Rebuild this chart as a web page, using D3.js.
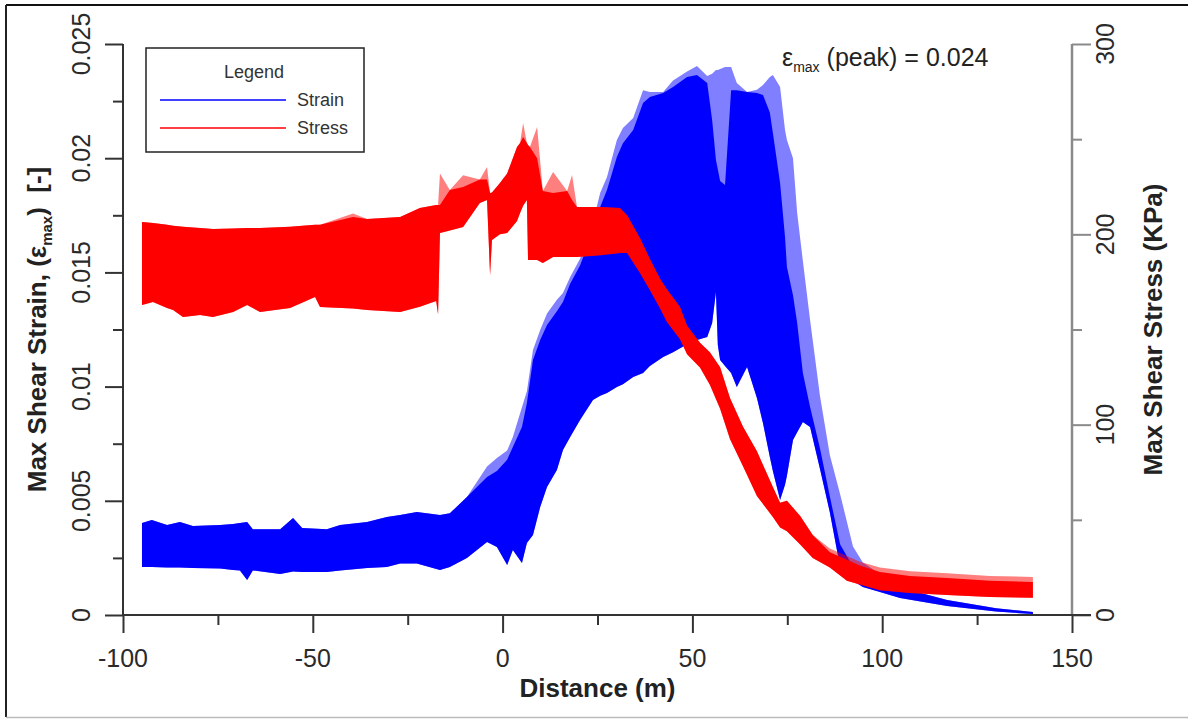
<!DOCTYPE html>
<html>
<head>
<meta charset="utf-8">
<script src="https://cdn.jsdelivr.net/npm/d3@7"></script>
<style>
  body { margin: 0; background: #fff; }
  text { font-family: Arial, "Liberation Sans", sans-serif; }
</style>
</head>
<body>
<div id="chart"></div>
<script>
// Strain band (blue): distance, lower edge, solid upper edge, spike tops
const strainX = [-95, -92.4, -88.4, -85, -81.6, -74.4, -71, -69.2, -67.3, -65.8, -58.6, -55.2, -52.8, -46.3, -42.8, -35.7, -30.5, -27, -22.6, -16.5, -13.9, -9.4, -4.1, -1.5, 1.2, 2.7, 5.1, 6.4, 8, 9.9, 11.7, 14.3, 15.9, 17.8, 20.4, 23.8, 25.7, 27.5, 30.1, 31.7, 34.4, 37, 38.8, 42.3, 44.9, 48.6, 51.2, 53.9, 55.2, 56.2, 56.7, 57.3, 58.6, 60.2, 61.7, 64.4, 67, 68.6, 70.4, 71.2, 73.1, 74.4, 74.9, 76.5, 77.6, 79.1, 81, 83.6, 86.2, 88.9, 92.3, 94.9, 99.4, 104.7, 117.1, 130, 139.7];
const strainLow = [0.0021, 0.0021, 0.00208, 0.00208, 0.00206, 0.00204, 0.00197, 0.00195, 0.00153, 0.00195, 0.0018, 0.0019, 0.00188, 0.00188, 0.00195, 0.00206, 0.0021, 0.00225, 0.00225, 0.00197, 0.0021, 0.0025, 0.0032, 0.00298, 0.00219, 0.00285, 0.00228, 0.00315, 0.0035, 0.00473, 0.0056, 0.00635, 0.00722, 0.00779, 0.00854, 0.00941, 0.0096, 0.00972, 0.00998, 0.0101, 0.01042, 0.01059, 0.0109, 0.0113, 0.0115, 0.01185, 0.01204, 0.01217, 0.01278, 0.01414, 0.01182, 0.01116, 0.0109, 0.0106, 0.00998, 0.01086, 0.0095, 0.0084, 0.00692, 0.0063, 0.00503, 0.0057, 0.0061, 0.00766, 0.008, 0.00845, 0.00823, 0.0064, 0.0045, 0.0021, 0.0015, 0.00123, 0.00101, 0.00074, 0.00039, 0.00015, 0.00004];
const strainHigh = [0.00403, 0.00416, 0.00394, 0.00407, 0.0039, 0.00394, 0.00398, 0.00403, 0.00407, 0.00375, 0.00375, 0.00425, 0.00381, 0.00375, 0.00394, 0.00407, 0.00429, 0.00438, 0.00451, 0.00438, 0.00445, 0.00517, 0.00604, 0.0063, 0.0068, 0.00736, 0.00823, 0.00928, 0.01116, 0.01204, 0.0127, 0.0133, 0.0137, 0.0145, 0.0153, 0.0168, 0.01786, 0.01861, 0.02005, 0.02066, 0.02123, 0.02242, 0.02268, 0.02285, 0.02312, 0.02355, 0.02364, 0.02329, 0.02167, 0.01992, 0.0195, 0.019, 0.01883, 0.02298, 0.02298, 0.0229, 0.02285, 0.02277, 0.022, 0.0211, 0.01891, 0.01655, 0.01524, 0.014, 0.01278, 0.01059, 0.00911, 0.0073, 0.0052, 0.0031, 0.0021, 0.0018, 0.00166, 0.0012, 0.00066, 0.0003, 0.00013];
const strainPeak = [0.00403, 0.00416, 0.00394, 0.00407, 0.0039, 0.00394, 0.00398, 0.00403, 0.00407, 0.00375, 0.00375, 0.00425, 0.00381, 0.00375, 0.00394, 0.00407, 0.00429, 0.00438, 0.00451, 0.00438, 0.00445, 0.00517, 0.0065, 0.00687, 0.0072, 0.00779, 0.0091, 0.0098, 0.0116, 0.01248, 0.0132, 0.0138, 0.0141, 0.0148, 0.0156, 0.0172, 0.01848, 0.01918, 0.0208, 0.02132, 0.02176, 0.02298, 0.0229, 0.0229, 0.0234, 0.0238, 0.02404, 0.0236, 0.0237, 0.02386, 0.02386, 0.0239, 0.02399, 0.02399, 0.02329, 0.0229, 0.023, 0.0232, 0.02355, 0.02364, 0.02312, 0.02123, 0.0208, 0.02, 0.0176, 0.0155, 0.01292, 0.0096, 0.007, 0.0053, 0.003, 0.0023, 0.0018, 0.0012, 0.00066, 0.0003, 0.00013];

// Stress band (red): distance, lower edge, solid upper edge, spike tops (kPa)
const stressX = [-95, -92.1, -88.4, -86.8, -84.2, -79.7, -76.3, -71, -67.3, -63.9, -56, -49.4, -48.1, -39.4, -35.7, -27, -21.8, -17.5, -17, -16.5, -13.9, -10.4, -6, -4.1, -3.3, -2.8, -0.7, 1.2, 3.8, 4.6, 5.4, 6.4, 6.7, 7.2, 9.1, 10.6, 13.3, 17, 18.3, 19.6, 25.7, 30.9, 32.8, 36.2, 38.8, 41.5, 43.3, 46.7, 48.6, 52, 54.6, 57.3, 59.9, 63.3, 67, 71.2, 73.1, 74.9, 78.4, 81.7, 86.2, 90.7, 94.1, 99.4, 107.3, 117.1, 128.4, 139.7];
const stressLow = [162.9, 164.5, 161.3, 160.3, 156.6, 157.6, 156.6, 159.2, 162.9, 159.2, 161.3, 167.1, 161.8, 161, 160.3, 159.2, 162, 165, 158, 200.7, 202, 203.9, 216.5, 218, 178.6, 197, 200, 200.7, 207, 211.2, 215, 218, 186.5, 186.5, 186.5, 184.9, 188.1, 188.1, 188.1, 188.1, 189, 190.2, 190.2, 179.7, 170.8, 161, 154, 145, 137, 130, 121, 108.3, 92.5, 78.3, 62.5, 51.5, 46, 44, 37, 30, 25, 18, 16, 13, 11.5, 10.5, 9.5, 9];
const stressHigh = [206.5, 206, 205, 204.5, 204, 203.3, 202.8, 203, 203.3, 203.3, 204, 205, 205, 209.1, 208, 209.1, 213.9, 215.4, 215.4, 215.4, 223.3, 224.9, 228.8, 228.8, 221.7, 222, 227, 232, 245.9, 248, 251.1, 248, 247, 245.9, 240, 222.8, 221.7, 222.8, 218, 214.4, 214.4, 213.9, 210, 198, 187, 176.5, 171, 162, 152, 143, 138, 130.2, 114, 99, 86, 67.2, 59, 60, 52, 42, 33, 29, 26, 22.6, 20.5, 19.4, 18, 17.3];
const stressPeak = [206.5, 206, 205, 204.5, 204, 203.3, 202.8, 203, 203.3, 203.3, 204, 205, 205, 211, 208, 209.1, 213.9, 215.4, 215.4, 232, 223.3, 231, 228.8, 235.4, 221.7, 222, 227, 232, 245.9, 248, 258.5, 248, 247, 245.9, 256.4, 222.8, 232.8, 222.8, 231.2, 214.4, 214.4, 213.9, 210, 198, 187, 176.5, 171, 162, 152, 143, 138, 130.2, 114, 99, 86, 67.2, 59, 60, 52, 42, 35, 31, 28, 25, 23, 22, 20.5, 20];

const xTicks = [-100, -50, 0, 50, 100, 150];
const xMinor = [-75, -25, 25, 75, 125];
const strainTicks = [0, 0.005, 0.01, 0.015, 0.02, 0.025];
const strainMinor = [0.0025, 0.0075, 0.0125, 0.0175, 0.0225];
const stressTicks = [0, 100, 200, 300];
const stressMinor = [50, 150, 250];

const width = 1188, height = 719;
const svg = d3.select("#chart").append("svg")
  .attr("width", width)
  .attr("height", height);

// outer frame
svg.append("line").attr("x1", 6).attr("x2", width).attr("y1", 5).attr("y2", 5)
  .attr("stroke", "#111").attr("stroke-width", 2);
svg.append("line").attr("x1", 6).attr("x2", 6).attr("y1", 5).attr("y2", 717)
  .attr("stroke", "#222").attr("stroke-width", 2);
svg.append("line").attr("x1", 6).attr("x2", width).attr("y1", 717.5).attr("y2", 717.5)
  .attr("stroke", "#bbb").attr("stroke-width", 1.5);

// scales
const x = d3.scaleLinear().domain([-100, 150]).range([123, 1072]);
const yStrain = d3.scaleLinear().domain([0, 0.025]).range([615, 44]);
const yStress = d3.scaleLinear().domain([0, 300]).range([615, 44]);

const strainData = strainX.map((d, i) => ({ x: d, lo: strainLow[i], hi: strainHigh[i], pk: strainPeak[i] }));
const stressData = stressX.map((d, i) => ({ x: d, lo: stressLow[i], hi: stressHigh[i], pk: stressPeak[i] }));

// strain band
svg.append("path").datum(strainData)
  .attr("fill", "#0000ff").attr("opacity", 0.5)
  .attr("d", d3.area().x(d => x(d.x)).y0(d => yStrain(d.lo)).y1(d => yStrain(d.pk)));
svg.append("path").datum(strainData)
  .attr("fill", "#0000ff")
  .attr("d", d3.area().x(d => x(d.x)).y0(d => yStrain(d.lo)).y1(d => yStrain(d.hi)));

// stress band
svg.append("path").datum(stressData)
  .attr("fill", "#ff0000").attr("opacity", 0.5)
  .attr("d", d3.area().x(d => x(d.x)).y0(d => yStress(d.lo)).y1(d => yStress(d.pk)));
svg.append("path").datum(stressData)
  .attr("fill", "#ff0000")
  .attr("d", d3.area().x(d => x(d.x)).y0(d => yStress(d.lo)).y1(d => yStress(d.hi)));

// axes
function styleAxis(g, color) {
  g.select(".domain").remove();
  g.selectAll(".tick line").attr("stroke", color).attr("stroke-width", 2);
}

const leftColor = "#333", rightColor = "#8a8a8a";

// right axis (grey)
svg.append("line").attr("x1", x(150)).attr("x2", x(150))
  .attr("y1", yStress(300)).attr("y2", yStress(0))
  .attr("stroke", rightColor).attr("stroke-width", 2.5);
svg.append("g").attr("transform", `translate(${x(150)},0)`)
  .call(d3.axisRight(yStress).tickValues(stressTicks).tickSize(19).tickFormat(""))
  .call(g => styleAxis(g, rightColor));
svg.append("g").attr("transform", `translate(${x(150)},0)`)
  .call(d3.axisRight(yStress).tickValues(stressMinor).tickSize(10).tickFormat(""))
  .call(g => styleAxis(g, rightColor));

// left axis
svg.append("line").attr("x1", x(-100)).attr("x2", x(-100))
  .attr("y1", yStrain(0.025)).attr("y2", yStrain(0))
  .attr("stroke", leftColor).attr("stroke-width", 2);
svg.append("g").attr("transform", `translate(${x(-100)},0)`)
  .call(d3.axisLeft(yStrain).tickValues(strainTicks).tickSize(18).tickFormat(""))
  .call(g => styleAxis(g, leftColor));
svg.append("g").attr("transform", `translate(${x(-100)},0)`)
  .call(d3.axisLeft(yStrain).tickValues(strainMinor).tickSize(10).tickFormat(""))
  .call(g => styleAxis(g, leftColor));

// bottom axis
svg.append("line").attr("x1", x(-100)).attr("x2", x(150))
  .attr("y1", yStrain(0)).attr("y2", yStrain(0))
  .attr("stroke", leftColor).attr("stroke-width", 2);
svg.append("g").attr("transform", `translate(0,${yStrain(0)})`)
  .call(d3.axisBottom(x).tickValues(xTicks).tickSize(18).tickFormat(""))
  .call(g => styleAxis(g, leftColor));
svg.append("g").attr("transform", `translate(0,${yStrain(0)})`)
  .call(d3.axisBottom(x).tickValues(xMinor).tickSize(10).tickFormat(""))
  .call(g => styleAxis(g, leftColor));
// right 0 tick continues the baseline in dark
svg.append("line").attr("x1", x(150)).attr("x2", x(150) + 19)
  .attr("y1", yStress(0)).attr("y2", yStress(0))
  .attr("stroke", leftColor).attr("stroke-width", 2);

// tick labels
svg.append("g").selectAll("text").data(xTicks).join("text")
  .attr("x", d => x(d)).attr("y", 658).attr("dy", "0.35em")
  .attr("text-anchor", "middle").attr("font-size", 25).attr("fill", "#2a2a2a")
  .text(d => String(d));

svg.append("g").selectAll("text").data(strainTicks).join("text")
  .attr("transform", d => `translate(81,${yStrain(d)}) rotate(-90)`)
  .attr("dy", "0.35em")
  .attr("text-anchor", "middle").attr("font-size", 25).attr("fill", "#2a2a2a")
  .text(d => String(d));

svg.append("g").selectAll("text").data(stressTicks).join("text")
  .attr("transform", d => `translate(1105,${yStress(d)}) rotate(-90)`)
  .attr("dy", "0.35em")
  .attr("text-anchor", "middle").attr("font-size", 25).attr("fill", "#2a2a2a")
  .text(d => String(d));

// axis titles
svg.append("text")
  .attr("x", (x(-100) + x(150)) / 2).attr("y", 688).attr("dy", "0.35em")
  .attr("text-anchor", "middle").attr("font-size", 26).attr("font-weight", "bold")
  .attr("fill", "#222").text("Distance (m)");

const leftTitle = svg.append("text")
  .attr("transform", `translate(37,${(yStrain(0) + yStrain(0.025)) / 2}) rotate(-90)`)
  .attr("dy", "0.35em")
  .attr("text-anchor", "middle").attr("font-size", 26).attr("font-weight", "bold")
  .attr("fill", "#222").style("white-space", "pre");
leftTitle.append("tspan").text("Max Shear Strain, (ε");
leftTitle.append("tspan").attr("font-size", 15).attr("dy", 6).text("max");
leftTitle.append("tspan").attr("dy", -6).text(")  [-]");

svg.append("text")
  .attr("transform", `translate(1153,${(yStress(0) + yStress(300)) / 2}) rotate(-90)`)
  .attr("dy", "0.35em")
  .attr("text-anchor", "middle").attr("font-size", 26).attr("font-weight", "bold")
  .attr("fill", "#222").text("Max Shear Stress (KPa)");

// peak annotation
const note = svg.append("text").attr("x", 782).attr("y", 66)
  .attr("font-size", 25).attr("fill", "#222").style("white-space", "pre");
note.append("tspan").text("ε");
note.append("tspan").attr("font-size", 14).attr("dy", 6).text("max");
note.append("tspan").attr("dy", -6).text(" (peak) = 0.024");

// legend
const legend = svg.append("g");
legend.append("rect").attr("x", 146).attr("y", 48).attr("width", 218).attr("height", 104)
  .attr("fill", "#fff").attr("stroke", "#222").attr("stroke-width", 1.5);
legend.append("text").attr("x", 254).attr("y", 72).attr("dy", "0.35em")
  .attr("text-anchor", "middle").attr("font-size", 18).attr("fill", "#333").text("Legend");
const legendItems = [{ name: "Strain", color: "#0000ff", y: 100 }, { name: "Stress", color: "#ff0000", y: 128 }];
legendItems.forEach(d => {
  legend.append("line").attr("x1", 160).attr("x2", 286).attr("y1", d.y).attr("y2", d.y)
    .attr("stroke", d.color).attr("stroke-width", 1.5);
  legend.append("text").attr("x", 297).attr("y", d.y).attr("dy", "0.35em")
    .attr("font-size", 18).attr("fill", "#333").text(d.name);
});
</script>
</body>
</html>
